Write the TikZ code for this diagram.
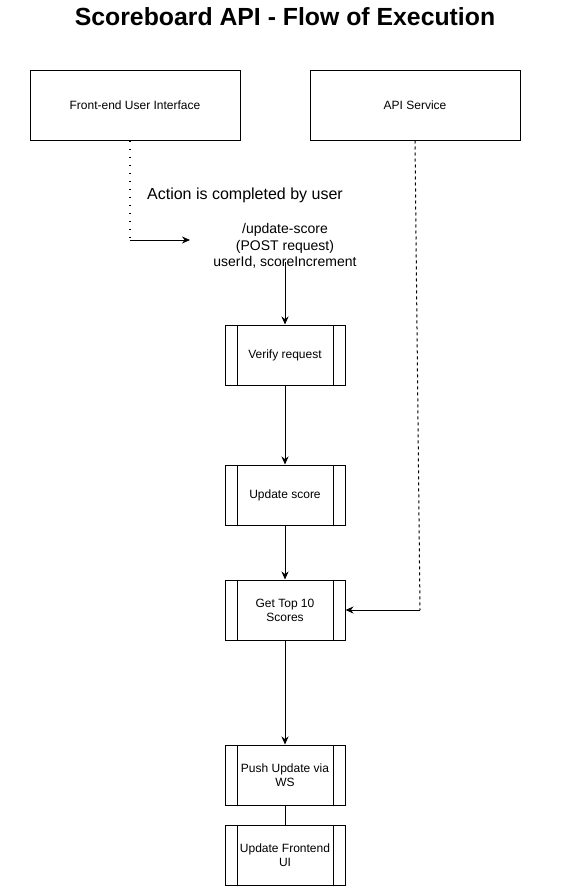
\documentclass[tikz,border=0pt]{standalone}
\usepackage{fontspec}
\setmainfont{Liberation Sans}
\usetikzlibrary{arrows.meta}
\begin{document}
\begin{tikzpicture}[x=1pt, y=-1pt, line width=1pt,
    every node/.style={font=\fontsize{12}{14}\selectfont},
    topbox/.style={draw, minimum width=210pt, minimum height=70pt},
    procbox/.style={draw, minimum width=120pt, minimum height=60pt, align=center,
      path picture={
        \draw ([xshift=12pt]path picture bounding box.south west) -- ([xshift=12pt]path picture bounding box.north west)
              ([xshift=-12pt]path picture bounding box.south east) -- ([xshift=-12pt]path picture bounding box.north east);}},
    flow/.style={-{Stealth[length=8pt, width=7pt]}},
    dotline/.style={line width=1.8pt, dash pattern=on 1.8pt off 6.2pt},
    dashline/.style={dash pattern=on 3pt off 3pt}]
    \useasboundingbox (0,0) rectangle (570,894);
    \node[font=\bfseries\fontsize{24.8}{28}\selectfont] (title) at (285,17) {Scoreboard API - Flow of Execution};
    % top boxes
    \node[topbox] (ui) at (135,105) {Front-end User Interface};
    \node[topbox] (api) at (415,105) {API Service};
    % labels
    \node[font=\fontsize{16}{19}\selectfont] (action) at (245,195) {Action is completed by user};
    \node[align=center, font=\fontsize{14}{16.5}\selectfont] (req) at (285,246) {/update-score\\(POST request)\\userId, scoreIncrement};
    % steps
    \node[procbox] (verify) at (285,355) {Verify request};
    \node[procbox] (update) at (285,495) {Update score};
    \node[procbox] (top) at (285,610) {Get Top 10\\Scores};
    \node[procbox] (push) at (285,775) {Push Update via\\WS};
    \node[procbox] (front) at (285,855) {Update Frontend\\UI};
    % connectors
    \coordinate (uiturn) at (130,240);
    \coordinate (reqin) at (190,240);
    \coordinate (apiturn) at (420,610);
    \draw[dotline] (ui.south -| uiturn) -- (uiturn);
    \draw[flow] (uiturn) -- (reqin);
    \draw[flow] ([yshift=10pt]req.south) -- (verify);
    \draw[flow] (verify) -- (update);
    \draw[flow] (update) -- (top);
    \draw[flow] (top) -- (push);
    \draw (push) -- (front);
    \draw[dashline] (api.south) -- (apiturn);
    \draw[flow] (apiturn) -- (top.east);
\end{tikzpicture}
\end{document}
